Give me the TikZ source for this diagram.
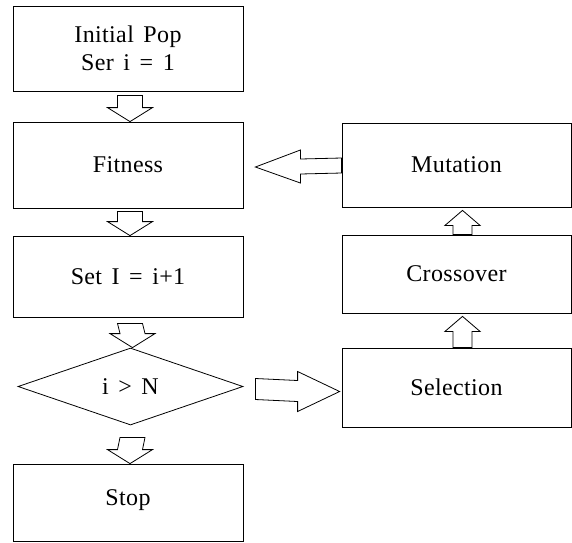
\documentclass[tikz,border=0pt]{standalone}
\usepackage{fontspec}
\setmainfont[WordSpace=1.5,LetterSpace=1.5]{Liberation Serif}
\usetikzlibrary{calc,shapes.geometric}
\begin{document}
\begin{tikzpicture}[x=1pt,y=-1pt,
  box/.style={draw,line width=0.8pt,rectangle,inner sep=0pt,font=\fontsize{24}{28}\selectfont,align=center},
  dia/.style={draw,line width=0.8pt,diamond,inner sep=0pt,font=\fontsize{24}{28}\selectfont},
  blk/.style={draw,line width=0.8pt,fill=white,line join=miter}]
\useasboundingbox (0,0) rectangle (572,542);
% left column
\node[box,minimum width=230pt,minimum height=85pt] (init) at (128,48.5) {Initial Pop\\Ser i = 1};
\node[box,minimum width=230pt,minimum height=86pt] (fit) at (128,165) {Fitness};
\node[box,minimum width=230pt,minimum height=81pt] (set) at (128,276.5) {Set I = i+1};
\node[dia,minimum width=225pt,minimum height=77pt] (dec) at (130.5,386.5) {i > N};
\node[box,minimum width=230pt,minimum height=77pt] (stop) at (128,502.5) {};
\node[font=\fontsize{24}{28}\selectfont] (stoptxt) at (128,500) {Stop};
% right column
\node[box,minimum width=229pt,minimum height=84pt] (mut) at (456.5,165) {Mutation};
\node[box,minimum width=229pt,minimum height=78pt] (cross) at (456.5,274) {Crossover};
\node[box,minimum width=229pt,minimum height=79pt] (sel) at (456.5,387.5) {Selection};
% down block arrows
\foreach \a/\b/\g in {init/fit/4,fit/set/3,set/dec/6,dec/stop/12}{
  \coordinate (A) at ($(\a.south)+(2,\g)$);
  \coordinate (B) at ($(\b.north)+(2,0)$);
  \draw[blk] ($(A)+(-12.5,0)$) -- ($(B)+(-12.5,-14)$) -- ($(B)+(-22.5,-14)$) -- (B)
    -- ($(B)+(22.5,-14)$) -- ($(B)+(12.5,-14)$) -- ($(A)+(12.5,0)$) -- cycle;
}
% up block arrows
\foreach \a/\b in {sel/cross,cross/mut}{
  \coordinate (A) at ($(\a.north)+(6,0)$);
  \coordinate (B) at ($(\b.south)+(6,3)$);
  \draw[blk] ($(A)+(-9.5,0)$) -- ($(B)+(-9.5,15)$) -- ($(B)+(-17.5,15)$) -- (B)
    -- ($(B)+(17.5,15)$) -- ($(B)+(9.5,15)$) -- ($(A)+(9.5,0)$) -- cycle;
}
% left block arrow mutation -> fitness
\coordinate (A) at ($(mut.west)+(0,1)$);
\coordinate (B) at ($(fit.east)+(12,2)$);
\draw[blk] ($(A)+(0,-8)$) -- ($(B)+(45,-8)$) -- ($(B)+(45,-17)$) -- (B)
  -- ($(B)+(45,16)$) -- ($(B)+(45,7)$) -- ($(A)+(0,7)$) -- cycle;
% right block arrow decision -> selection
\coordinate (A) at ($(dec.east)+(12,3)$);
\coordinate (B) at ($(sel.west)+(-2,4)$);
\draw[blk] ($(A)+(0,-11)$) -- ($(B)+(-42,-11)$) -- ($(B)+(-42,-20)$) -- (B)
  -- ($(B)+(-42,20)$) -- ($(B)+(-42,10)$) -- ($(A)+(0,10)$) -- cycle;
\end{tikzpicture}
\end{document}
